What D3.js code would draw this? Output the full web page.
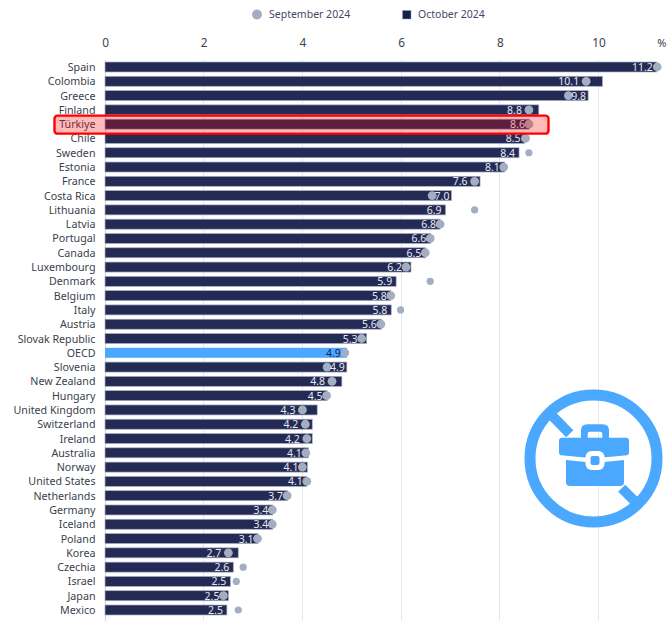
<!DOCTYPE html>
<html><head><meta charset="utf-8">
<script src="https://cdn.jsdelivr.net/npm/d3@7/dist/d3.min.js"></script>
<style>html,body{margin:0;padding:0;background:#fff}svg{display:block;font-family:"Noto Sans",sans-serif}</style>
</head><body><svg id="c" width="667" height="621"></svg>
<script>
const countries=["Spain","Colombia","Greece","Finland","Türkiye","Chile","Sweden","Estonia","France","Costa Rica","Lithuania","Latvia","Portugal","Canada","Luxembourg","Denmark","Belgium","Italy","Austria","Slovak Republic","OECD","Slovenia","New Zealand","Hungary","United Kingdom","Switzerland","Ireland","Australia","Norway","United States","Netherlands","Germany","Iceland","Poland","Korea","Czechia","Israel","Japan","Mexico"];
const october=[11.18,10.08,9.79,8.79,8.6,8.5,8.39,8.1,7.6,7.02,6.9,6.79,6.6,6.5,6.2,5.9,5.79,5.8,5.6,5.3,4.9,4.9,4.8,4.5,4.3,4.2,4.2,4.12,4.1,4.09,3.7,3.4,3.4,3.1,2.7,2.6,2.54,2.5,2.47];
const september=[11.19,9.75,9.39,8.59,8.59,8.52,8.59,8.08,7.49,6.63,7.49,6.79,6.59,6.49,6.1,6.59,5.79,5.99,5.59,5.2,4.86,4.5,4.6,4.49,4.0,4.06,4.09,4.07,4.0,4.09,3.69,3.39,3.39,3.09,2.5,2.8,2.66,2.4,2.7];
const xTicks=[0,2,4,6,8,10];
const seriesNames=["September 2024","October 2024"];
const highlight="Türkiye", aggregate="OECD";

const svg=d3.select("#c");
const x=d3.scaleLinear().domain([0,10]).range([105,598.5]);
const y=d3.scalePoint().domain(countries).range([67,610]);
const BH=10;

// grid
svg.append("g").selectAll("line").data(xTicks).join("line")
 .attr("x1",d=>x(d)).attr("x2",d=>x(d)).attr("y1",60).attr("y2",621)
 .attr("stroke",d=>d===0?"#ccd2de":"#e3e7ee").attr("shape-rendering","crispEdges");

// axis
const ax=d3.axisTop(x).tickValues(xTicks).tickSize(0).tickPadding(0).tickFormat(d3.format("d"));
const axG=svg.append("g").attr("transform","translate(0,47)").call(ax);
axG.select(".domain").remove();
axG.selectAll("text").attr("font-size",11.8).attr("fill","#3a3f4d").attr("font-family",'"Noto Sans",sans-serif');
svg.append("text").attr("x",666.5).attr("y",47).attr("text-anchor","end").attr("font-size",11).attr("fill","#3a3f4d").text("%");

// bars
svg.append("g").selectAll("rect").data(countries).join("rect")
 .attr("x",x(0)).attr("y",d=>y(d)-BH/2)
 .attr("width",(d,i)=>x(october[i])-x(0)).attr("height",BH)
 .attr("fill",d=>d===aggregate?"#4ba8ff":"#232b55")
 .attr("stroke",d=>d===aggregate?"none":"#a9aec4").attr("stroke-width",0.7);

// category labels
svg.append("g").selectAll("text").data(countries).join("text")
 .attr("x",95.5).attr("y",d=>y(d)+4).attr("text-anchor","end")
 .attr("font-size",10.7).attr("fill","#3a3f4d").text(d=>d);

// dots
svg.append("g").selectAll("circle").data(countries).join("circle")
 .attr("cx",(d,i)=>x(september[i])).attr("cy",d=>y(d))
 .attr("r",(d,i)=>september[i]>october[i]+0.05?3.6:4.4).attr("fill","#a3aec2");

// value labels
const fmt=d3.format(".1f");
svg.append("g").selectAll("text").data(countries).join("text")
 .attr("x",(d,i)=>{
   const be=x(october[i]),dt=x(september[i]),gap=be-dt;
   if(gap>=18) return be-2;
   if(gap>5) return dt-7;
   if(gap>-2) return Math.min(be,dt)-4;
   return be-4;
 })
 .attr("y",d=>y(d)+4).attr("text-anchor","end").attr("font-size",10.5)
 .attr("fill",d=>d===aggregate?"#13214d":"#e6e8f0").text((d,i)=>fmt(october[i]));

// legend
svg.append("circle").attr("cx",257).attr("cy",14.5).attr("r",5).attr("fill","#a3aec2");
svg.append("text").attr("x",269).attr("y",17.5).attr("font-size",10.5).attr("fill","#3f4a68").text(seriesNames[0]);
svg.append("rect").attr("x",402.5).attr("y",10.5).attr("width",8.5).attr("height",8.5).attr("fill","#13214d").attr("stroke","#9aa3ba").attr("stroke-width",0.5);
svg.append("text").attr("x",418).attr("y",17.5).attr("font-size",10.5).attr("fill","#3f4a68").text(seriesNames[1]);

// highlight box
const hy=y(highlight);
svg.append("rect").attr("x",54.5).attr("y",hy-8.5).attr("width",494).attr("height",18).attr("rx",3)
 .attr("fill","rgba(255,0,0,0.27)").attr("stroke","#ff0000").attr("stroke-width",2.4);

// icon
const blue="#4ba8ff";
const ic=svg.append("g").attr("fill",blue);
ic.append("circle").attr("cx",593.5).attr("cy",458.5).attr("r",63.5).attr("fill","none").attr("stroke",blue).attr("stroke-width",11);
ic.append("path").attr("d","M549 412.5 L569.7 433.7 M621.7 488.3 L640 506.5").attr("stroke",blue).attr("stroke-width",10).attr("fill","none");
ic.append("path").attr("fill-rule","evenodd").attr("d",
 "M564 437.7 h17 v-7 q0 -6.4 6.4 -6.4 h15.2 q6.4 0 6.4 6.4 v7 h17 q3 0 3 3 v12 q0 2.3 -2 2.5 l-32 3 h-2 l-32 -3 q-2 -0.2 -2 -2.5 v-12 q0 -3 3 -3 Z M587.7 437.7 h14.6 v-4 q0 -2 -2 -2 h-10.6 q-2 0 -2 2 Z");
ic.append("path").attr("d","M566 460 l29 3 l29 -3 v22 q0 4 -4 4 h-50 q-4 0 -4 -4 Z");
ic.append("rect").attr("x",585.5).attr("y",451).attr("width",19).attr("height",19).attr("rx",6).attr("fill","#fff");
ic.append("rect").attr("x",590.5).attr("y",456).attr("width",9).attr("height",9).attr("rx",2);
</script></body></html>
